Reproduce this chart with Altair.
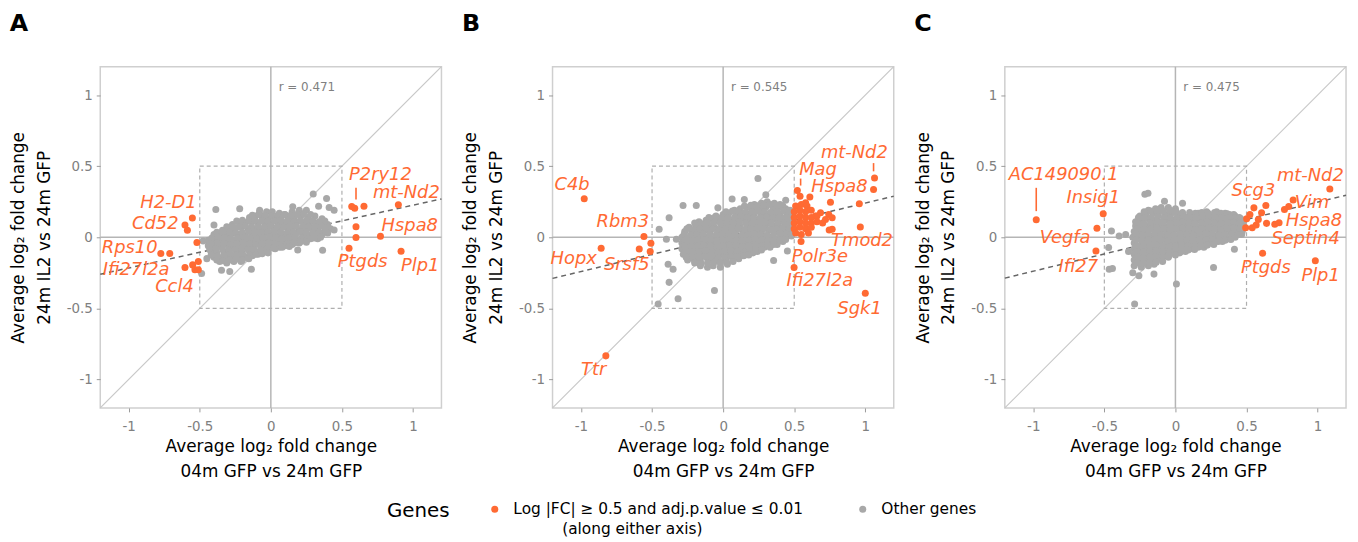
import altair as alt
import pandas as pd

ORANGE = "#FF6A33"
GREY_PT = "#A8A8A8"
SIG = "Log |FC| ≥ 0.5 and adj.p.value ≤ 0.01"
OTHER = "Other genes"

# ---------------- Panel A ----------------
grey_a = [
    (-0.08,0.17),(-0.03,0.18),(0.01,0.18),(0.06,0.17),(0.10,0.16),(0.15,0.18),(0.20,0.19),(0.25,0.19),
    (-0.20,0.12),(-0.15,0.14),(-0.11,0.15),(-0.06,0.14),(-0.02,0.13),(0.03,0.14),(0.07,0.13),(0.12,0.14),(0.16,0.13),(0.21,0.15),(0.26,0.14),(0.31,0.15),(0.36,0.13),
    (-0.27,0.09),(-0.22,0.10),(-0.18,0.10),(-0.13,0.11),(-0.09,0.10),(-0.04,0.09),(0.00,0.10),(0.05,0.10),(0.09,0.09),(0.14,0.10),(0.18,0.11),(0.23,0.10),(0.27,0.09),(0.32,0.10),(0.36,0.10),(0.40,0.09),
    (-0.34,0.05),(-0.30,0.06),(-0.25,0.06),(-0.21,0.07),(-0.16,0.06),(-0.12,0.05),(-0.07,0.06),(-0.03,0.06),(0.02,0.05),(0.06,0.06),(0.11,0.07),(0.15,0.06),(0.20,0.05),(0.24,0.06),(0.29,0.06),(0.33,0.05),(0.38,0.06),(0.42,0.06),
    (-0.40,0.02),(-0.36,0.01),(-0.31,0.02),(-0.27,0.03),(-0.22,0.02),(-0.18,0.01),(-0.13,0.02),(-0.09,0.02),(-0.04,0.03),(0.00,0.02),(0.05,0.01),(0.09,0.02),(0.14,0.02),(0.18,0.03),(0.23,0.02),(0.27,0.01),(0.32,0.02),(0.36,0.02),(0.40,0.03),
    (-0.44,-0.02),(-0.39,-0.03),(-0.35,-0.02),(-0.30,-0.01),(-0.26,-0.02),(-0.21,-0.03),(-0.17,-0.02),(-0.12,-0.02),(-0.08,-0.01),(-0.03,-0.02),(0.01,-0.03),(0.06,-0.02),(0.10,-0.02),(0.15,-0.01),(0.19,-0.02),(0.24,-0.02),(0.28,-0.01),(0.33,-0.01),
    (-0.44,-0.06),(-0.40,-0.07),(-0.35,-0.06),(-0.31,-0.05),(-0.26,-0.06),(-0.22,-0.07),(-0.17,-0.06),(-0.13,-0.06),(-0.08,-0.05),(-0.04,-0.06),(0.01,-0.06),(0.05,-0.05),(0.10,-0.06),(0.15,-0.05),(0.20,-0.04),
    (-0.42,-0.10),(-0.38,-0.11),(-0.33,-0.10),(-0.29,-0.09),(-0.24,-0.10),(-0.20,-0.11),(-0.15,-0.10),(-0.11,-0.10),(-0.06,-0.09),(-0.02,-0.09),(0.03,-0.08),(0.06,-0.07),
    (-0.40,-0.14),(-0.36,-0.15),(-0.31,-0.14),(-0.27,-0.13),(-0.22,-0.14),(-0.18,-0.14),(-0.13,-0.13),(-0.09,-0.12),
    (-0.36,-0.17),(-0.31,-0.18),(-0.26,-0.17),(-0.21,-0.17),
    (-0.387,0.196),(-0.40,0.086),(-0.219,0.20),(-0.137,-0.224),(0.189,-0.089),(0.364,-0.091),(0.298,0.305),
    (0.392,0.273),(0.336,0.219),(0.445,0.191),(0.445,0.051),(-0.476,-0.026),(-0.487,-0.254),(-0.347,-0.231),
    (-0.289,-0.24),(-0.079,0.191),(0.154,0.215),(0.41,0.21),(-0.45,-0.15),
]
fill_a = [
    (-0.13,0.155),(-0.085,0.16),(-0.04,0.155),(0.005,0.15),(0.05,0.155),(0.095,0.16),(0.14,0.155),(0.185,0.16),(0.23,0.165),(0.28,0.16),
    (-0.24,0.115),(-0.20,0.11),(-0.155,0.115),(-0.11,0.12),(-0.065,0.115),(-0.02,0.11),(0.025,0.115),(0.07,0.12),(0.115,0.115),(0.16,0.11),(0.205,0.115),(0.25,0.12),(0.295,0.115),(0.34,0.11),(0.38,0.115),
    (-0.31,0.075),(-0.27,0.07),(-0.225,0.075),(-0.18,0.08),(-0.135,0.075),(-0.09,0.07),(-0.045,0.075),(0.0,0.08),(0.045,0.075),(0.09,0.07),(0.135,0.075),(0.18,0.08),(0.225,0.075),(0.27,0.07),(0.31,0.075),(0.355,0.08),(0.40,0.07),
    (-0.38,0.035),(-0.335,0.04),(-0.29,0.035),(-0.245,0.03),(-0.20,0.035),(-0.155,0.04),(-0.11,0.035),(-0.065,0.03),(-0.02,0.035),(0.025,0.04),(0.07,0.035),(0.115,0.03),(0.16,0.035),(0.205,0.04),(0.25,0.035),(0.295,0.03),(0.34,0.035),(0.385,0.04),
    (-0.415,-0.005),(-0.37,0.0),(-0.325,-0.005),(-0.28,-0.01),(-0.235,-0.005),(-0.19,0.0),(-0.145,-0.005),(-0.10,-0.01),(-0.055,-0.005),(-0.01,0.0),(0.035,-0.005),(0.08,-0.01),(0.125,-0.005),(0.17,0.0),(0.215,-0.005),(0.26,-0.01),(0.305,-0.005),(0.35,0.0),
    (-0.42,-0.045),(-0.375,-0.04),(-0.33,-0.045),(-0.285,-0.05),(-0.24,-0.045),(-0.195,-0.04),(-0.15,-0.045),(-0.105,-0.05),(-0.06,-0.045),(-0.015,-0.04),(0.03,-0.045),(0.075,-0.05),(0.12,-0.045),(0.165,-0.04),(0.21,-0.03),(0.25,-0.035),
    (-0.43,-0.085),(-0.385,-0.08),(-0.34,-0.085),(-0.295,-0.09),(-0.25,-0.085),(-0.205,-0.08),(-0.16,-0.085),(-0.115,-0.09),(-0.07,-0.085),(-0.025,-0.08),(0.02,-0.075),(0.08,-0.07),(0.13,-0.065),
    (-0.42,-0.125),(-0.375,-0.13),(-0.33,-0.125),(-0.285,-0.12),(-0.24,-0.125),(-0.195,-0.13),(-0.15,-0.125),(-0.105,-0.12),(-0.06,-0.115),(-0.02,-0.11),
    (-0.38,-0.16),(-0.335,-0.165),(-0.29,-0.16),(-0.245,-0.155),(-0.20,-0.16),(-0.155,-0.15),
]
orange_a = [
    (-0.552,0.135),(-0.604,0.086),(-0.587,0.049),(-0.52,-0.037),(-0.774,-0.114),(-0.711,-0.114),
    (-0.604,-0.212),(-0.55,-0.194),(-0.51,-0.17),(-0.534,-0.228),(-0.51,-0.228),
    (0.569,0.217),(0.59,0.205),(0.655,0.219),(0.897,0.229),(0.599,0.075),(0.599,-0.002),
    (0.771,0.007),(0.55,-0.077),(0.916,-0.098),
]
labels_a = [
    ("P2ry12",0.771,0.436),("mt-Nd2",0.953,0.313),("Hspa8",0.977,0.079),("Plp1",1.051,-0.20),
    ("Ptgds",0.646,-0.177),("H2-D1",-0.72,0.238),("Cd52",-0.813,0.093),("Rps10",-0.993,-0.079),
    ("Ifi27l2a",-0.948,-0.228),("Ccl4",-0.678,-0.347),
]
segments_a = [(0.599,0.348,0.266)]
reg_a = [-0.26, 0.27]
r_a = "r = 0.471"

# ---------------- Panel B ----------------
grey_b = [
    (0.22,0.23),(0.27,0.24),(0.31,0.25),(0.36,0.24),(0.40,0.23),
    (0.08,0.19),(0.12,0.20),(0.17,0.21),(0.21,0.20),(0.26,0.20),(0.30,0.21),(0.35,0.20),(0.39,0.21),(0.44,0.20),(0.47,0.19),
    (-0.05,0.15),(0.00,0.16),(0.04,0.17),(0.09,0.16),(0.13,0.15),(0.18,0.16),(0.22,0.17),(0.27,0.16),(0.31,0.16),(0.36,0.17),(0.40,0.16),(0.45,0.15),(0.48,0.16),
    (-0.17,0.11),(-0.12,0.12),(-0.08,0.13),(-0.03,0.12),(0.01,0.11),(0.06,0.12),(0.10,0.12),(0.15,0.13),(0.19,0.12),(0.24,0.11),(0.28,0.12),(0.33,0.12),(0.37,0.13),(0.42,0.12),(0.46,0.11),(0.49,0.12),
    (-0.24,0.07),(-0.19,0.08),(-0.15,0.09),(-0.10,0.08),(-0.06,0.07),(-0.01,0.08),(0.03,0.08),(0.08,0.09),(0.12,0.08),(0.17,0.07),(0.21,0.08),(0.26,0.08),(0.30,0.09),(0.35,0.08),(0.39,0.07),(0.44,0.08),(0.48,0.08),
    (-0.27,0.04),(-0.22,0.03),(-0.18,0.04),(-0.13,0.05),(-0.09,0.04),(-0.04,0.03),(0.00,0.04),(0.05,0.04),(0.09,0.05),(0.14,0.04),(0.18,0.03),(0.23,0.04),(0.27,0.04),(0.32,0.05),(0.36,0.04),(0.41,0.03),(0.45,0.04),(0.49,0.04),
    (-0.29,0.00),(-0.24,-0.01),(-0.20,0.00),(-0.15,0.01),(-0.11,0.00),(-0.06,-0.01),(-0.02,0.00),(0.03,0.00),(0.07,0.01),(0.12,0.00),(0.16,-0.01),(0.21,0.00),(0.25,0.00),(0.30,0.01),(0.34,0.00),(0.39,-0.01),(0.43,0.00),(0.48,0.01),
    (-0.29,-0.04),(-0.25,-0.05),(-0.20,-0.04),(-0.16,-0.03),(-0.11,-0.04),(-0.07,-0.05),(-0.02,-0.04),(0.02,-0.04),(0.07,-0.03),(0.11,-0.04),(0.16,-0.05),(0.20,-0.04),(0.25,-0.04),(0.29,-0.03),(0.34,-0.04),(0.38,-0.05),(0.42,-0.03),
    (-0.29,-0.08),(-0.24,-0.09),(-0.20,-0.08),(-0.15,-0.07),(-0.11,-0.08),(-0.06,-0.09),(-0.02,-0.08),(0.03,-0.08),(0.07,-0.07),(0.12,-0.08),(0.16,-0.09),(0.21,-0.08),(0.25,-0.08),(0.29,-0.07),(0.33,-0.07),
    (-0.28,-0.12),(-0.23,-0.13),(-0.19,-0.12),(-0.14,-0.11),(-0.10,-0.12),(-0.05,-0.13),(-0.01,-0.12),(0.04,-0.12),(0.08,-0.11),(0.13,-0.12),(0.17,-0.12),(0.21,-0.11),(0.24,-0.10),
    (-0.25,-0.16),(-0.20,-0.17),(-0.16,-0.16),(-0.11,-0.15),(-0.07,-0.16),(-0.02,-0.17),(0.02,-0.16),(0.07,-0.15),(0.11,-0.15),
    (-0.16,-0.20),(-0.11,-0.21),(-0.07,-0.20),(-0.02,-0.21),(0.03,-0.19),
    (-0.282,0.224),(-0.189,0.224),(-0.45,0.056),(-0.38,0.138),(-0.399,-0.014),(-0.329,-0.014),(-0.387,-0.189),
    (-0.352,-0.224),(-0.38,-0.317),(-0.317,-0.433),(-0.457,-0.469),(-0.061,-0.375),(0.245,0.413),(0.063,0.27),
    (0.149,0.266),(0.30,0.30),(0.452,-0.096),(0.355,-0.163),(-0.037,0.207),(0.44,0.26),
]
fill_b = [
    (0.15,0.22),(0.195,0.225),(0.24,0.22),(0.285,0.225),(0.33,0.23),(0.375,0.225),(0.42,0.22),
    (0.02,0.18),(0.065,0.185),(0.11,0.18),(0.155,0.175),(0.20,0.18),(0.245,0.185),(0.29,0.18),(0.335,0.175),(0.38,0.18),(0.425,0.185),(0.465,0.175),
    (-0.10,0.14),(-0.055,0.145),(-0.01,0.14),(0.035,0.135),(0.08,0.14),(0.125,0.145),(0.17,0.14),(0.215,0.135),(0.26,0.14),(0.305,0.145),(0.35,0.14),(0.395,0.135),(0.44,0.14),(0.475,0.14),
    (-0.20,0.10),(-0.155,0.095),(-0.11,0.10),(-0.065,0.105),(-0.02,0.10),(0.025,0.095),(0.07,0.10),(0.115,0.105),(0.16,0.10),(0.205,0.095),(0.25,0.10),(0.295,0.105),(0.34,0.10),(0.385,0.095),(0.43,0.10),(0.47,0.10),
    (-0.255,0.06),(-0.21,0.055),(-0.165,0.06),(-0.12,0.065),(-0.075,0.06),(-0.03,0.055),(0.015,0.06),(0.06,0.065),(0.105,0.06),(0.15,0.055),(0.195,0.06),(0.24,0.065),(0.285,0.06),(0.33,0.055),(0.375,0.06),(0.42,0.065),(0.465,0.06),
    (-0.275,0.02),(-0.23,0.015),(-0.185,0.02),(-0.14,0.025),(-0.095,0.02),(-0.05,0.015),(-0.005,0.02),(0.04,0.025),(0.085,0.02),(0.13,0.015),(0.175,0.02),(0.22,0.025),(0.265,0.02),(0.31,0.015),(0.355,0.02),(0.40,0.025),(0.445,0.02),(0.48,0.02),
    (-0.27,-0.02),(-0.225,-0.025),(-0.18,-0.02),(-0.135,-0.015),(-0.09,-0.02),(-0.045,-0.025),(0.0,-0.02),(0.045,-0.015),(0.09,-0.02),(0.135,-0.025),(0.18,-0.02),(0.225,-0.015),(0.27,-0.02),(0.315,-0.025),(0.36,-0.02),(0.40,-0.015),(0.44,-0.015),
    (-0.27,-0.06),(-0.225,-0.065),(-0.18,-0.06),(-0.135,-0.055),(-0.09,-0.06),(-0.045,-0.065),(0.0,-0.06),(0.045,-0.055),(0.09,-0.06),(0.135,-0.065),(0.18,-0.06),(0.225,-0.055),(0.27,-0.06),(0.315,-0.055),(0.355,-0.05),
    (-0.26,-0.10),(-0.215,-0.105),(-0.17,-0.10),(-0.125,-0.095),(-0.08,-0.10),(-0.035,-0.105),(0.01,-0.10),(0.055,-0.095),(0.10,-0.10),(0.145,-0.105),(0.19,-0.10),(0.23,-0.095),(0.27,-0.09),
    (-0.26,-0.14),(-0.215,-0.145),(-0.17,-0.14),(-0.125,-0.135),(-0.08,-0.14),(-0.035,-0.145),(0.01,-0.14),(0.055,-0.135),(0.10,-0.135),(0.145,-0.13),(0.18,-0.125),
    (-0.20,-0.18),(-0.155,-0.185),(-0.11,-0.18),(-0.065,-0.175),(-0.02,-0.18),(0.025,-0.175),(0.07,-0.17),
]
orange_b = [
    (-0.977,0.271),(-0.858,-0.077),(-0.557,0.005),(-0.508,-0.042),(-0.59,-0.082),(-0.513,-0.10),
    (-0.825,-0.834),(1.00,-0.394),(0.499,-0.212),(0.548,-0.03),(0.965,0.072),(0.746,0.051),
    (1.065,0.417),(1.058,0.336),(0.958,0.236),(0.755,0.247),(0.522,0.329),(0.541,0.289),(0.61,0.284),
    (0.58,0.243),(0.685,0.172),(0.743,0.161),(0.72,0.126),(0.767,0.056),(0.65,0.149),(0.767,0.138),
    (0.51,0.22),(0.55,0.23),(0.59,0.22),
    (0.50,0.18),(0.54,0.19),(0.58,0.18),(0.62,0.19),
    (0.50,0.14),(0.54,0.15),(0.58,0.14),(0.62,0.14),(0.66,0.15),
    (0.50,0.10),(0.54,0.11),(0.58,0.10),(0.62,0.10),(0.66,0.11),(0.70,0.10),
    (0.50,0.06),(0.54,0.07),(0.58,0.06),(0.62,0.07),
    (0.51,0.03),(0.55,0.02),(0.60,0.03),
]
labels_b = [
    ("C4b",-1.063,0.366),("Hopx",-1.051,-0.154),("Rbm3",-0.706,0.11),("Srsf5",-0.678,-0.194),
    ("Ttr",-0.911,-0.935),("Sgk1",0.96,-0.508),("Ifi27l2a",0.68,-0.31),("Polr3e",0.68,-0.138),
    ("Tmod2",0.977,-0.026),("Hspa8",0.818,0.352),("Mag",0.667,0.476),("mt-Nd2",0.923,0.592),
]
segments_b = [(0.545,0.413,0.364),(1.058,0.522,0.464)]
reg_b = [-0.289, 0.289]
r_b = "r = 0.545"

# ---------------- Panel C ----------------
grey_c = [
    (-0.19,0.19),(-0.14,0.20),(-0.10,0.21),(-0.05,0.21),(0.00,0.20),(0.16,0.17),(0.22,0.18),(0.29,0.18),(0.35,0.17),
    (-0.25,0.15),(-0.21,0.16),(-0.16,0.17),(-0.12,0.16),(-0.07,0.16),(-0.03,0.17),(0.02,0.16),(0.06,0.15),(0.11,0.16),(0.15,0.15),(0.20,0.16),(0.24,0.15),(0.29,0.16),(0.33,0.15),(0.38,0.16),(0.42,0.15),(0.45,0.14),
    (-0.28,0.11),(-0.23,0.12),(-0.19,0.13),(-0.14,0.12),(-0.10,0.11),(-0.05,0.12),(-0.01,0.12),(0.04,0.13),(0.08,0.12),(0.13,0.11),(0.17,0.12),(0.22,0.12),(0.26,0.13),(0.31,0.12),(0.35,0.11),(0.40,0.12),(0.44,0.12),(0.48,0.11),
    (-0.28,0.08),(-0.24,0.07),(-0.19,0.08),(-0.15,0.09),(-0.10,0.08),(-0.06,0.07),(-0.01,0.08),(0.03,0.08),(0.08,0.09),(0.12,0.08),(0.17,0.07),(0.21,0.08),(0.26,0.08),(0.30,0.09),(0.35,0.08),(0.39,0.07),(0.44,0.08),(0.48,0.08),
    (-0.29,0.04),(-0.24,0.03),(-0.20,0.04),(-0.15,0.05),(-0.11,0.04),(-0.06,0.03),(-0.02,0.04),(0.03,0.04),(0.07,0.05),(0.12,0.04),(0.16,0.03),(0.21,0.04),(0.25,0.04),(0.30,0.05),(0.34,0.04),(0.39,0.03),(0.43,0.04),(0.47,0.04),
    (-0.30,0.00),(-0.25,-0.01),(-0.21,0.00),(-0.16,0.01),(-0.12,0.00),(-0.07,-0.01),(-0.03,0.00),(0.02,0.00),(0.06,0.01),(0.11,0.00),(0.15,-0.01),(0.20,0.00),(0.24,0.00),(0.29,0.01),(0.33,0.00),(0.38,-0.01),(0.42,0.00),
    (-0.29,-0.04),(-0.24,-0.05),(-0.20,-0.04),(-0.15,-0.03),(-0.11,-0.04),(-0.06,-0.05),(-0.02,-0.04),(0.03,-0.04),(0.07,-0.03),(0.12,-0.04),(0.16,-0.05),(0.21,-0.04),(0.25,-0.04),(0.30,-0.03),(0.33,-0.03),
    (-0.29,-0.08),(-0.24,-0.09),(-0.20,-0.08),(-0.15,-0.07),(-0.11,-0.08),(-0.06,-0.09),(-0.02,-0.08),(0.03,-0.08),(0.07,-0.07),(0.12,-0.08),(0.16,-0.07),(0.20,-0.07),
    (-0.29,-0.12),(-0.24,-0.13),(-0.20,-0.12),(-0.15,-0.11),(-0.11,-0.12),(-0.06,-0.12),(-0.02,-0.11),(0.03,-0.11),(0.07,-0.10),
    (-0.29,-0.16),(-0.24,-0.17),(-0.19,-0.16),(-0.15,-0.15),(-0.10,-0.15),(-0.05,-0.14),
    (-0.29,-0.20),(-0.24,-0.21),(-0.19,-0.20),(-0.15,-0.19),
    (-0.215,0.303),(-0.193,0.31),(-0.077,0.254),(-0.45,0.044),(-0.396,0.009),(-0.35,0.02),(-0.47,-0.072),
    (-0.466,-0.224),(-0.443,-0.219),(-0.30,-0.25),(-0.257,-0.27),(-0.151,-0.259),(0.007,-0.329),(-0.287,-0.469),
    (0.268,-0.212),(0.415,-0.084),(0.466,0.02),(0.05,0.24),(-0.33,-0.10),
]
fill_c = [
    (-0.22,0.18),(-0.175,0.185),(-0.13,0.19),(-0.085,0.185),(-0.04,0.19),(0.005,0.18),(0.05,0.175),(0.10,0.175),(0.14,0.17),(0.185,0.175),(0.23,0.17),(0.275,0.175),(0.32,0.17),(0.365,0.165),(0.41,0.16),
    (-0.26,0.14),(-0.215,0.135),(-0.17,0.14),(-0.125,0.145),(-0.08,0.14),(-0.035,0.135),(0.01,0.14),(0.055,0.145),(0.10,0.14),(0.145,0.135),(0.19,0.14),(0.235,0.145),(0.28,0.14),(0.325,0.135),(0.37,0.14),(0.415,0.135),(0.46,0.13),
    (-0.265,0.10),(-0.22,0.095),(-0.175,0.10),(-0.13,0.105),(-0.085,0.10),(-0.04,0.095),(0.005,0.10),(0.05,0.105),(0.095,0.10),(0.14,0.095),(0.185,0.10),(0.23,0.105),(0.275,0.10),(0.32,0.095),(0.365,0.10),(0.41,0.105),(0.455,0.10),
    (-0.265,0.06),(-0.22,0.055),(-0.175,0.06),(-0.13,0.065),(-0.085,0.06),(-0.04,0.055),(0.005,0.06),(0.05,0.065),(0.095,0.06),(0.14,0.055),(0.185,0.06),(0.23,0.065),(0.275,0.06),(0.32,0.055),(0.365,0.06),(0.41,0.065),(0.455,0.06),
    (-0.28,0.02),(-0.235,0.015),(-0.19,0.02),(-0.145,0.025),(-0.10,0.02),(-0.055,0.015),(-0.01,0.02),(0.035,0.025),(0.08,0.02),(0.125,0.015),(0.17,0.02),(0.215,0.025),(0.26,0.02),(0.305,0.015),(0.35,0.02),(0.395,0.025),(0.44,0.02),
    (-0.28,-0.02),(-0.235,-0.025),(-0.19,-0.02),(-0.145,-0.015),(-0.10,-0.02),(-0.055,-0.025),(-0.01,-0.02),(0.035,-0.015),(0.08,-0.02),(0.125,-0.025),(0.17,-0.02),(0.215,-0.015),(0.26,-0.02),(0.305,-0.025),(0.35,-0.02),(0.39,-0.015),
    (-0.27,-0.06),(-0.225,-0.065),(-0.18,-0.06),(-0.135,-0.055),(-0.09,-0.06),(-0.045,-0.065),(0.0,-0.06),(0.045,-0.055),(0.09,-0.06),(0.135,-0.065),(0.18,-0.06),(0.225,-0.055),(0.27,-0.05),
    (-0.27,-0.10),(-0.225,-0.105),(-0.18,-0.10),(-0.135,-0.095),(-0.09,-0.10),(-0.045,-0.105),(0.0,-0.10),(0.045,-0.095),(0.09,-0.09),(0.135,-0.085),
    (-0.27,-0.14),(-0.225,-0.145),(-0.18,-0.14),(-0.135,-0.135),(-0.09,-0.14),(-0.045,-0.13),(0.0,-0.125),
    (-0.27,-0.18),(-0.225,-0.185),(-0.18,-0.18),(-0.135,-0.175),(-0.09,-0.17),
]
orange_c = [
    (-0.979,0.124),(-0.508,0.166),(-0.552,0.063),(-0.559,-0.096),(0.613,-0.112),(0.984,-0.165),
    (1.086,0.34),(0.828,0.263),(0.797,0.217),(0.767,0.196),(0.552,0.207),(0.636,0.224),(0.606,0.172),
    (0.501,0.131),(0.583,0.126),(0.641,0.098),(0.699,0.091),(0.729,0.103),(0.494,0.068),(0.54,0.068),
    (0.568,0.086),(0.524,0.161),
]
labels_c = [
    ("AC149090.1",-0.786,0.436),("Insig1",-0.578,0.278),("Vegfa",-0.776,-0.007),("Ifi27",-0.683,-0.212),
    ("Ptgds",0.636,-0.217),("Plp1",1.021,-0.27),("mt-Nd2",0.949,0.429),("Scg3",0.548,0.324),
    ("Vim",0.96,0.242),("Hspa8",0.974,0.114),("Septin4",0.916,-0.014),
]
segments_c = [(-0.979,0.348,0.184)]
reg_c = [-0.287, 0.296]
r_c = "r = 0.475"

# ---------------- axes / shared ----------------
tick_values = [-1, -0.5, 0, 0.5, 1]
domain = [-1.2, 1.2]
x_title = ["Average log\u2082 fold change", "04m GFP vs 24m GFP"]
y_title = ["Average log\u2082 fold change", "24m IL2 vs 24m GFP"]
sig_line2 = "(along either axis)"

PADCH = "\u200b" + "\u00a0" * 10
legend_expr = ("datum.label == '" + OTHER + "' ? [datum.label, ''] : ['" + SIG + "', '"
               + PADCH + sig_line2 + "']")
FONT = "DejaVu Sans"


def axis(title, label_pad, title_pad):
    return alt.Axis(values=tick_values, labelExpr="'' + datum.value", title=title,
                    grid=False, domain=False, ticks=True, tickSize=4, tickColor="#9A9A9A",
                    labelColor="#808080", labelFont=FONT, labelFontSize=13.5,
                    labelPadding=label_pad, titleFont=FONT, titleFontSize=17,
                    titleFontWeight="normal", titleColor="#000000", titlePadding=title_pad,
                    titleLineHeight=26)


def panel(letter, grey, orange, labels, segs, reg, rtext):
    sc = alt.Scale(domain=domain, nice=False, zero=False)
    X = lambda f: alt.X(f, type="quantitative", scale=sc, axis=axis(x_title, 8, 5))
    Y = lambda f: alt.Y(f, type="quantitative", scale=sc, axis=axis(y_title, 4, 13))
    color = alt.Color("group:N", scale=alt.Scale(domain=[SIG, OTHER], range=[ORANGE, GREY_PT]),
                      legend=alt.Legend(title="Genes", orient="none", legendX=289, legendY=438,
                                        direction="horizontal", titleOrient="left",
                                        titleAnchor="start", titleBaseline="top",
                                        symbolType="circle", symbolSize=50,
                                        labelFont=FONT, labelFontSize=15.5, labelLimit=600,
                                        labelColor="#000000", labelExpr=legend_expr,
                                        titleFont=FONT, titleFontSize=20,
                                        titleFontWeight="normal", titleColor="#000000",
                                        titlePadding=37, columnPadding=52, labelOffset=11))

    zero = pd.DataFrame({"v": [0]})
    diag = pd.DataFrame({"x": domain, "y": domain})
    box = pd.DataFrame({"x": [-0.5], "x2": [0.5], "y": [-0.5], "y2": [0.5]})
    regdf = pd.DataFrame({"x": domain, "y": reg})
    gdf = pd.DataFrame(grey, columns=["x", "y"]).assign(group=OTHER)
    odf = pd.DataFrame(orange, columns=["x", "y"]).assign(group=SIG)
    ldf = pd.DataFrame(labels, columns=["text", "x", "y"])
    sdf = pd.DataFrame(segs, columns=["x", "y", "y2"])
    rdf = pd.DataFrame({"x": [0.055], "y": [1.054], "text": [rtext]})

    vline = alt.Chart(zero).mark_rule(color="#B5B5B5", strokeWidth=1.5).encode(x=X("v"))
    hline = alt.Chart(zero).mark_rule(color="#B5B5B5", strokeWidth=1.5).encode(y=Y("v"))
    dline = alt.Chart(diag).mark_line(color="#C8C8C8", strokeWidth=1.2).encode(x=X("x"), y=Y("y"))
    brect = alt.Chart(box).mark_rect(fillOpacity=0, stroke="#AFAFAF", strokeWidth=1.2,
                                     strokeDash=[4, 3]).encode(x=X("x"), x2="x2", y=Y("y"), y2="y2")
    rline = alt.Chart(regdf).mark_line(color="#666666", strokeWidth=1.5,
                                       strokeDash=[5, 4]).encode(x=X("x"), y=Y("y"))
    gpts = alt.Chart(gdf).mark_circle(size=50, opacity=1).encode(x=X("x"), y=Y("y"), color=color)
    opts = alt.Chart(odf).mark_circle(size=50, opacity=1).encode(x=X("x"), y=Y("y"), color=color)
    segl = alt.Chart(sdf).mark_rule(color=ORANGE, strokeWidth=1.6).encode(x=X("x"), y=Y("y"), y2="y2")
    labl = alt.Chart(ldf).mark_text(font=FONT, fontStyle="italic", fontSize=18,
                                    color=ORANGE).encode(x=X("x"), y=Y("y"), text="text:N")
    rtxt = alt.Chart(rdf).mark_text(font=FONT, fontSize=12, color="#808080",
                                    align="left").encode(x=X("x"), y=Y("y"), text="text:N")

    return alt.layer(vline, hline, dline, brect, rline, gpts, opts, segl, labl, rtxt).properties(
        width=344, height=344,
        title=alt.TitleParams(text=letter, anchor="start", frame="bounds", font=FONT,
                              fontSize=24, fontWeight="bold", color="#000000", offset=29))


chart = alt.hconcat(
    panel("A", grey_a + fill_a, orange_a, labels_a, segments_a, reg_a, r_a),
    panel("B", grey_b + fill_b, orange_b, labels_b, segments_b, reg_b, r_b),
    panel("C", grey_c + fill_c, orange_c, labels_c, segments_c, reg_c, r_c),
    spacing=15,
).properties(
    padding={"left": 0, "top": 0, "right": 0, "bottom": 0},
    config=alt.Config(view=alt.ViewConfig(stroke="#CFCFCF", strokeWidth=1.5),
                      style={"guide-label": {"lineHeight": 20}}),
)

chart.save("out.html", embed_options={"renderer": "svg", "actions": False})
